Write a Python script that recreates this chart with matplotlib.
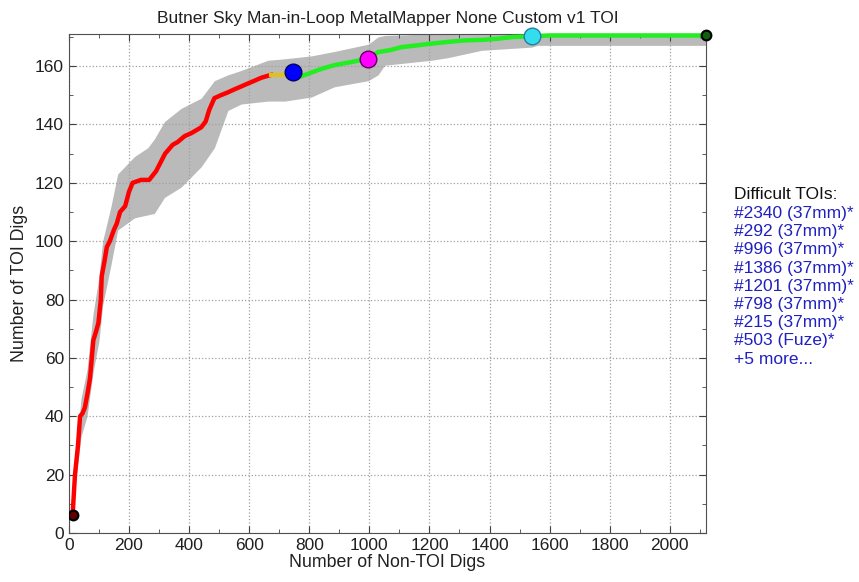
import numpy as np
import matplotlib
matplotlib.use("Agg")
import matplotlib.pyplot as plt
from matplotlib.ticker import MultipleLocator

plt.rcParams['font.family'] = ['Liberation Sans', 'DejaVu Sans']

# red part of the curve (non-TOI digs, TOI digs)
red_x = [12, 20, 30, 37, 45, 53, 62, 70, 76, 81, 90, 98, 106, 109, 118, 126, 136, 150, 159, 170, 187,
         200, 212, 240, 267, 290, 320, 345, 362, 385, 407, 440, 455, 467, 484, 505, 529, 550, 573,
         595, 618, 640, 673]
red_y = [6, 20, 30, 40, 41, 43, 48, 53, 60, 66, 69, 72, 80, 88, 93, 98, 100, 104, 106, 110, 112,
         117, 120, 121, 121, 124, 130, 133, 134, 136, 137, 139, 141, 145, 149, 150, 151, 152, 153,
         154, 155, 156, 157]
yellow_x = [673, 700, 720, 745]
yellow_y = [157, 157, 157, 158]
green_x = [745, 773, 800, 828, 855, 883, 940, 996, 1010, 1029, 1070, 1107, 1150, 1207, 1262, 1320,
           1380, 1429, 1480, 1540, 1600, 2121]
green_y = [158, 156.5, 157.5, 158.6, 159.5, 160.3, 161.4, 162.5, 163.5, 164.8, 165.5, 166.5, 167,
           167.7, 168.3, 168.8, 169, 169.4, 170, 170.2, 170.5, 170.5]

# confidence band
band_x = [12, 20, 40, 60, 80, 100, 112, 140, 162, 218, 262, 284, 318, 373, 440, 484, 529, 573, 662,
          718, 807, 883, 996, 1029, 1051, 1207, 1262, 1373, 1540, 1560, 2121]
band_hi = [8, 24, 46, 56, 75, 88, 100, 112, 123, 129, 132, 135, 141, 145.5, 149, 155, 157, 158.5,
           162, 162.5, 163.5, 165, 167.5, 170, 170.5, 171, 171, 171, 171, 171, 171]
band_lo = [4, 16, 33, 40, 55, 66, 78, 92, 103.8, 108, 109, 109.5, 115, 118.5, 125.5, 132, 144.8, 147,
           148, 148, 149.4, 152.9, 155, 157, 160.3, 162, 162.9, 165.4, 166.5, 167.1, 167.1]

difficult = ['#2340 (37mm)*', '#292 (37mm)*', '#996 (37mm)*', '#1386 (37mm)*', '#1201 (37mm)*',
             '#798 (37mm)*', '#215 (37mm)*', '#503 (Fuze)*', '+5 more...']

fig = plt.figure(figsize=(8.59, 5.82), dpi=100)
ax = fig.add_axes([0.0803, 0.0842, 0.7417, 0.8574])

ax.fill_between(band_x, band_lo, band_hi, color='#bababa', lw=0, zorder=1)
ax.plot(red_x, red_y, color='#ff0000', lw=3.2, zorder=3)
ax.plot(yellow_x, yellow_y, color='#e0c020', lw=3.2, zorder=3)
ax.plot(green_x, green_y, color='#22ee22', lw=3.2, zorder=3, clip_on=False)

ax.plot(red_x[0], red_y[0], 'o', ms=7, mfc='#600000', mec='black', mew=1.5, zorder=5)
ax.plot(green_x[0], green_y[0], 'o', ms=12, mfc='#0000ff', mec='#000060', mew=1, zorder=5)
ax.plot(green_x[7], green_y[7], 'o', ms=12, mfc='#ff00ff', mec='#600060', mew=1, zorder=5)
ax.plot(green_x[19], green_y[19], 'o', ms=12, mfc='#33ddee', mec='#2080a0', mew=1, zorder=5, clip_on=False)
ax.plot(green_x[-1], green_y[-1], 'o', ms=7, mfc='#106010', mec='black', mew=1.5, zorder=5, clip_on=False)

ax.set_xlim(0, 2121)
ax.set_ylim(0, 171)
ax.xaxis.set_major_locator(MultipleLocator(200))
ax.xaxis.set_minor_locator(MultipleLocator(100))
ax.yaxis.set_major_locator(MultipleLocator(20))
ax.yaxis.set_minor_locator(MultipleLocator(10))
ax.tick_params(which='both', direction='in', top=True, right=True, colors='#404040',
               labelcolor='#202020', labelsize=12.5)
ax.tick_params(which='major', length=5)
ax.tick_params(which='minor', length=3)
ax.grid(True, which='major', linestyle=':', color='#a0a0a0', lw=0.9)
for s in ax.spines.values():
    s.set_color('#505050')

ax.set_xlabel('Number of Non-TOI Digs', fontsize=12.8, color='#202020', labelpad=1)
ax.set_ylabel('Number of TOI Digs', fontsize=12.8, color='#202020', labelpad=5)
ax.set_title('Butner Sky Man-in-Loop MetalMapper None Custom v1 TOI', fontsize=12.5,
             color='#202020', pad=8)

fig.text(0.855, 1 - 195 / 582, 'Difficult TOIs:', fontsize=12.5, color='#101010', va='center')
for i, t in enumerate(difficult):
    fig.text(0.855, 1 - (213.5 + 18.2 * i) / 582, t, fontsize=12.5, color='#2020c0', va='center')

fig.savefig('out.png', dpi=100)
